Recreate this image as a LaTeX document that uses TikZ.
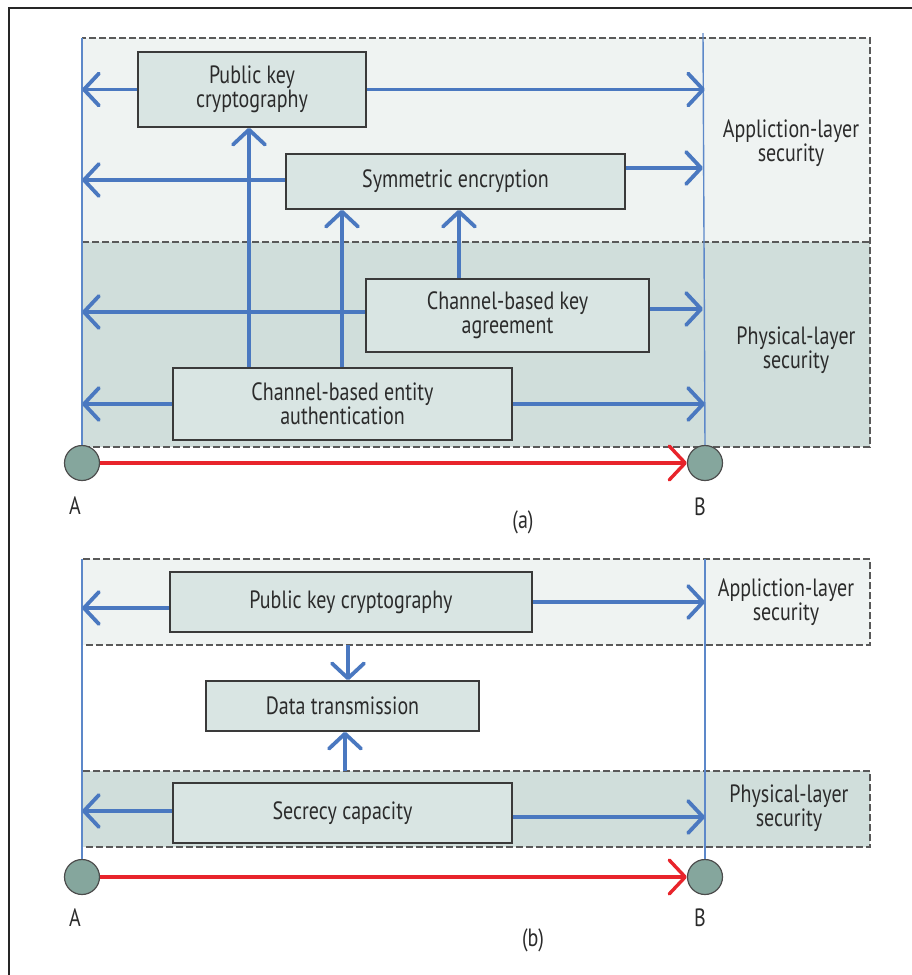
\documentclass[tikz,border=0pt]{standalone}
\usepackage{fontspec}
\setmainfont{PT Sans}[FakeStretch=0.8]
\usetikzlibrary{arrows.meta,calc}
\definecolor{appfill}{HTML}{EFF3F2}
\definecolor{physfill}{HTML}{D0DEDB}
\definecolor{boxfill}{HTML}{D9E5E3}
\definecolor{boxline}{HTML}{3A3A3A}
\definecolor{flow}{HTML}{4A78C0}
\definecolor{guide}{HTML}{5D88C9}
\definecolor{link}{HTML}{E8242B}
\definecolor{endfill}{HTML}{85A69D}
\definecolor{ink}{HTML}{2B2B2B}
\tikzset{
  layerbox/.style={draw=black!65, line width=1.1pt, dash pattern=on 7pt off 3pt},
  procbox/.style={draw=boxline, fill=boxfill, line width=1.5pt, align=center, inner sep=0pt, text=ink},
  flowarrow/.style={draw=flow, line width=3.8pt,
    -{Straight Barb[length=15pt, width=32pt, line width=3.8pt, round]}},
  guideline/.style={draw=guide, line width=1.4pt},
  linkarrow/.style={draw=link, line width=3.4pt,
    -{Straight Barb[length=16pt, width=34pt, line width=3.4pt, round]}},
  endpoint/.style={circle, draw=black!70, fill=endfill, line width=1.2pt, minimum size=35pt, inner sep=0pt},
  tag/.style={text=ink, align=center}
}
\begin{document}
\begin{tikzpicture}[x=1pt, y=-1pt, font=\fontsize{25}{24}\selectfont]
\useasboundingbox (0,0) rectangle (912,975);
% open frame
\draw[line width=1.6pt, black!85] (9,975) -- (9,8) -- (912,8);

% ---------------- (a) ----------------
\fill[appfill] (82,38) rectangle (870,242);
\fill[physfill] (82,242) rectangle (870,447);
\draw[layerbox] (82,38) rectangle (870,447);
\draw[layerbox] (82,242) -- (870,242);
\node[tag] (appA) at (791,143) {Appliction-layer\\security};
\node[tag] (physA) at (796,350) {Physical-layer\\security};

\node[endpoint] (A1) at (82,463) {};
\node[endpoint] (B1) at (705,463) {};
\coordinate (A1top) at (82,38);
\coordinate (B1top) at (703,33);
\draw[guideline] (A1top) -- (A1.north);
\draw[guideline] (B1top) -- (B1.north);

\node[procbox, minimum width=228pt, minimum height=75pt] (pkcA) at (252,89.5) {Public key\\cryptography};
\node[procbox, minimum width=339pt, minimum height=55pt] (symA) at (455.5,181.5) {Symmetric encryption};
\node[procbox, minimum width=283pt, minimum height=73pt] (keyA) at (507.5,315.5) {Channel-based key\\agreement};
\node[procbox, minimum width=339pt, minimum height=72pt] (entA) at (342.5,404) {Channel-based entity\\authentication};

% vertical dependencies
\coordinate (v1) at (249,0);
\coordinate (v2) at (342,0);
\coordinate (v3) at (459,0);
\draw[flowarrow] (v1 |- entA.north) -- (v1 |- pkcA.south);
\draw[flowarrow] (v2 |- entA.north) -- (v2 |- symA.south);
\draw[flowarrow] (v3 |- keyA.north) -- (v3 |- symA.south);

% horizontal flows towards A and B
\draw[flowarrow] (pkcA.west) -- (pkcA.west -| A1top);
\draw[flowarrow] (pkcA.east) -- (pkcA.east -| B1);
\draw[flowarrow] ([yshift=1.5pt]symA.west) -- ([yshift=1.5pt]symA.west -| A1top);
\draw[flowarrow] ([yshift=13.5pt]symA.east) -- ([yshift=13.5pt]symA.east -| B1top);
\draw[flowarrow] ([yshift=3.5pt]keyA.west) -- ([yshift=3.5pt]keyA.west -| A1top);
\draw[flowarrow] ([yshift=6.5pt]keyA.east) -- ([yshift=6.5pt]keyA.east -| B1top);
\draw[flowarrow] (entA.west) -- (entA.west -| A1top);
\draw[flowarrow] (entA.east) -- (entA.east -| B1);

\draw[linkarrow] (A1) -- (B1);
\node[tag] (labA1) at (75,506) {A};
\node[tag] (labB1) at (700,507) {B};
\node[tag] (capA) at (523,522) {(a)};

% ---------------- (b) ----------------
\fill[appfill] (82,559) rectangle (870,645);
\fill[physfill] (82,771) rectangle (870,847);
\draw[layerbox] (82,559) rectangle (870,645);
\draw[layerbox] (82,771) rectangle (870,847);
\node[tag] (appB) at (786,602) {Appliction-layer\\security};
\node[tag] (physB) at (789,808) {Physical-layer\\security};

\node[endpoint] (A2) at (82,877) {};
\node[endpoint] (B2) at (705,877) {};
\coordinate (A2top) at (82,559);
\coordinate (B2top) at (705,559);
\draw[guideline] (A2top) -- (A2.north);
\draw[guideline] (B2top) -- (B2.north);

\node[procbox, minimum width=362pt, minimum height=60pt] (pkcB) at (351,602) {Public key cryptography};
\node[procbox, minimum width=273pt, minimum height=50pt] (dataB) at (342.5,706) {Data transmission};
\node[procbox, minimum width=339pt, minimum height=60pt] (secB) at (342.5,813) {Secrecy capacity};

\coordinate (appBbottom) at (348,645);
\coordinate (physBtop) at (345,771);
\draw[flowarrow] (appBbottom) -- (appBbottom |- dataB.north);
\draw[flowarrow] (physBtop) -- (physBtop |- dataB.south);

\draw[flowarrow] ([yshift=-6pt]pkcB.west) -- ([yshift=-6pt]pkcB.west -| A2top);
\draw[flowarrow] (pkcB.east) -- (pkcB.east -| B2top);
\draw[flowarrow] ([yshift=2pt]secB.west) -- ([yshift=2pt]secB.west -| A2top);
\draw[flowarrow] ([yshift=-4pt]secB.east) -- ([yshift=-4pt]secB.east -| B2top);

\draw[linkarrow] (A2) -- (B2);
\node[tag] (labA2) at (75,918) {A};
\node[tag] (labB2) at (700,918) {B};
\node[tag] (capB) at (533,940) {(b)};
\end{tikzpicture}
\end{document}
